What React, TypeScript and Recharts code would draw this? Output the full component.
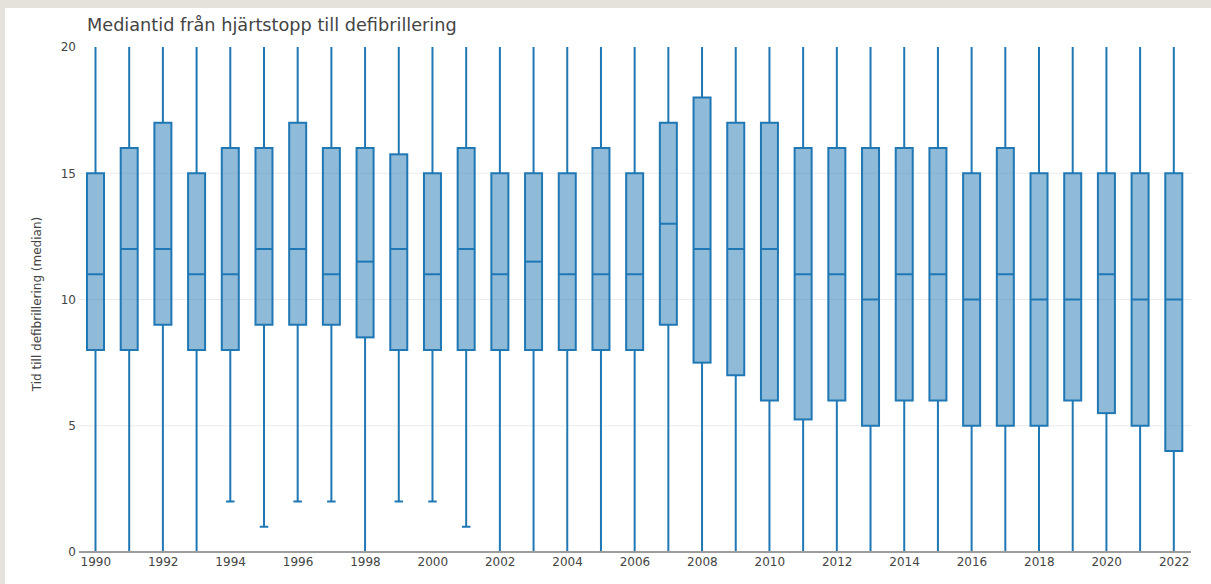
import React from 'react';
import { ComposedChart, Bar, XAxis, YAxis, CartesianGrid } from 'recharts';

const years = [1990, 1991, 1992, 1993, 1994, 1995, 1996, 1997, 1998, 1999, 2000, 2001, 2002, 2003, 2004, 2005, 2006, 2007, 2008, 2009, 2010, 2011, 2012, 2013, 2014, 2015, 2016, 2017, 2018, 2019, 2020, 2021, 2022];
const lowerWhisker = [0, 0, 0, 0, 2, 1, 2, 2, 0, 2, 2, 1, 0, 0, 0, 0, 0, 0, 0, 0, 0, 0, 0, 0, 0, 0, 0, 0, 0, 0, 0, 0, 0];
const q1 = [8, 8, 9, 8, 8, 9, 9, 9, 8.5, 8, 8, 8, 8, 8, 8, 8, 8, 9, 7.5, 7, 6, 5.25, 6, 5, 6, 6, 5, 5, 5, 6, 5.5, 5, 4];
const medians = [11, 12, 12, 11, 11, 12, 12, 11, 11.5, 12, 11, 12, 11, 11.5, 11, 11, 11, 13, 12, 12, 12, 11, 11, 10, 11, 11, 10, 11, 10, 10, 11, 10, 10];
const q3 = [15, 16, 17, 15, 16, 16, 17, 16, 16, 15.75, 15, 16, 15, 15, 15, 16, 15, 17, 18, 17, 17, 16, 16, 16, 16, 16, 15, 16, 15, 15, 15, 15, 15];
const upperWhisker = [24, 24, 24, 24, 24, 24, 24, 24, 24, 24, 24, 24, 24, 24, 24, 24, 24, 24, 24, 24, 24, 24, 24, 24, 24, 24, 24, 24, 24, 24, 24, 24, 24];
const yTicks = [0, 5, 10, 15, 20];
const gridValues = [5, 10, 15];

const title = 'Mediantid från hjärtstopp till defibrillering';
const yTitle = 'Tid till defibrillering (median)';

const data = years.map((yr, i) => ({
  year: String(yr),
  lo: lowerWhisker[i],
  q1: q1[i],
  med: medians[i],
  q3: q3[i],
  hi: upperWhisker[i],
}));

const BLUE = '#1f77b4';
const FILL = 'rgba(31,119,180,0.5)';

const BoxShape = (props: any) => {
  const { x, y, width, height } = props;
  const d = props.payload ?? props;
  const { lo, hi } = d;
  if (hi === lo) return null;
  const py = (v: number) => y + (height * (hi - v)) / (hi - lo);
  const cx = x + width / 2;
  const capHalf = width / 4;
  const yQ1 = py(d.q1);
  const yQ3 = py(d.q3);
  const yMed = py(d.med);
  const yLo = py(lo);
  const yHi = py(hi);
  return (
    <g>
      <line x1={cx} x2={cx} y1={yQ3} y2={yHi} stroke={BLUE} strokeWidth={2} />
      <line x1={cx} x2={cx} y1={yQ1} y2={yLo} stroke={BLUE} strokeWidth={2} />
      <line x1={cx - capHalf} x2={cx + capHalf} y1={yLo} y2={yLo} stroke={BLUE} strokeWidth={2} />
      <line x1={cx - capHalf} x2={cx + capHalf} y1={yHi} y2={yHi} stroke={BLUE} strokeWidth={2} />
      <rect x={x} y={yQ3} width={width} height={yQ1 - yQ3} fill={FILL} stroke={BLUE} strokeWidth={2} />
      <line x1={x} x2={x + width} y1={yMed} y2={yMed} stroke={BLUE} strokeWidth={2} />
    </g>
  );
};

const FONT = '"DejaVu Sans", Verdana, sans-serif';

export default function App() {
  return (
    <div style={{ position: 'fixed', left: 0, top: 0, width: 1211, height: 584, background: '#e5e2dc', fontFamily: FONT }}>
      <div style={{ position: 'absolute', left: 5, top: 8, width: 1206, height: 576, background: '#ffffff' }}>
        <ComposedChart
          width={1206}
          height={576}
          data={data}
          margin={{ top: 39, right: 20, bottom: 0, left: 0 }}
        >
          <CartesianGrid horizontal vertical={false} horizontalValues={gridValues} stroke="#ebebeb" strokeWidth={1} />
          <XAxis
            dataKey="year"
            type="category"
            interval={1}
            height={32}
            tickSize={0}
            tickMargin={5}
            tickLine={false}
            axisLine={{ stroke: '#9d9d9d', strokeWidth: 2 }}
            tick={{ fontSize: 12, fill: '#444', fontFamily: FONT }}
          />
          <YAxis
            type="number"
            domain={[0, 20]}
            ticks={yTicks}
            allowDataOverflow
            width={74}
            tickSize={0}
            tickMargin={3}
            tickLine={false}
            axisLine={false}
            tick={{ fontSize: 12, fill: '#444', fontFamily: FONT }}
          />
          <Bar
            dataKey={(d: any) => [d.lo, d.hi]}
            barSize={17}
            shape={BoxShape}
            isAnimationActive={false}
          />
        </ComposedChart>
        <div
          style={{
            position: 'absolute',
            left: 82,
            top: 7,
            fontSize: 17.7,
            color: '#444',
            whiteSpace: 'nowrap',
            lineHeight: '21px',
          }}
        >
          {title}
        </div>
        <div
          style={{
            position: 'absolute',
            left: 32,
            top: 296,
            fontSize: 12,
            color: '#444',
            whiteSpace: 'nowrap',
            transform: 'translate(-50%, -50%) rotate(-90deg)',
            lineHeight: '14px',
          }}
        >
          {yTitle}
        </div>
      </div>
    </div>
  );
}
